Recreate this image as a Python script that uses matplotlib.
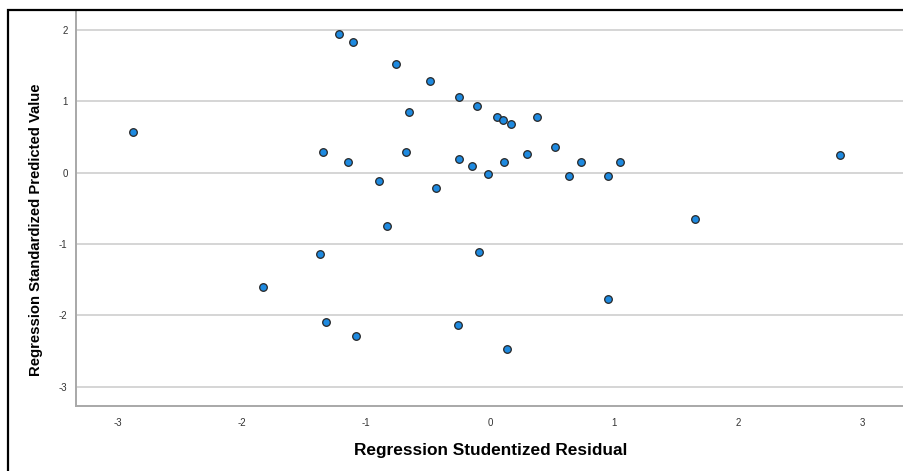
import matplotlib
matplotlib.use("Agg")
import matplotlib.pyplot as plt
from matplotlib.patches import Rectangle

plt.rcParams['font.family'] = ['Liberation Sans', 'DejaVu Sans']
plt.rcParams['axes.unicode_minus'] = False

# studentized residual (x) vs standardized predicted value (y)
resid = [-2.876, -1.216, -1.101, -0.755, -0.487, -0.248, -0.106, -0.656,
         0.058, 0.103, 0.173, 0.377, -1.345, -1.141, -0.680, -0.251,
         -0.143, -0.014, 0.111, 0.302, 0.521, 0.640, 0.734, -0.894,
         -0.436, -0.830, 0.951, 1.044, 1.651, 2.820, -1.828, -1.369,
         -0.090, -1.321, -1.077, -0.259, 0.133, 0.948]
pred = [0.575, 1.941, 1.837, 1.525, 1.282, 1.057, 0.931, 0.847,
        0.781, 0.744, 0.679, 0.781, 0.290, 0.154, 0.286, 0.196,
        0.098, -0.018, 0.154, 0.262, 0.356, -0.046, 0.154, -0.116,
        -0.219, -0.748, -0.051, 0.154, -0.654, 0.252, -1.599, -1.145,
        -1.117, -2.090, -2.290, -2.136, -2.477, -1.767]

xticks = [-3, -2, -1, 0, 1, 2, 3]
yticks = [-3, -2, -1, 0, 1, 2]

W, H = 904, 471
fig = plt.figure(figsize=(W / 100, H / 100), dpi=100)

# outer frame, runs off the right and bottom edge
fig.patches.append(Rectangle((8 / W, -0.1), 1.2, 1 - 10 / H + 0.1,
                             transform=fig.transFigure, fill=False,
                             edgecolor='black', linewidth=1.6))

ax = fig.add_axes([76 / W, 1 - 405.7 / H, (W - 76) / W, 393.7 / H])
ax.set_xlim(-3.335, 3.335)
ax.set_ylim(-3.268, 2.254)

ax.grid(axis='y', color='#d2d2d2', linewidth=1.3)
ax.set_axisbelow(True)
ax.scatter(resid, pred, s=30, color='#1e8ae0', edgecolor='#262626',
           linewidth=0.9, zorder=3)

ax.set_xticks(xticks)
ax.set_yticks(yticks)
ax.tick_params(length=0, labelsize=7, colors='#333333')
ax.tick_params(axis='x', pad=9)
ax.tick_params(axis='y', pad=6)

for s in ['top', 'right']:
    ax.spines[s].set_visible(False)
for s in ['left', 'bottom']:
    ax.spines[s].set_color('#a8a8a8')
    ax.spines[s].set_linewidth(1.4)

fig.text(491 / W, 1 - 451 / H, 'Regression Studentized Residual',
         ha='center', va='center', fontsize=12.4, fontweight='bold')
fig.text(36 / W, 1 - 229.5 / H, 'Regression Standardized Predicted Value',
         ha='center', va='center', rotation=90, fontsize=10.7,
         fontweight='bold')

fig.savefig('out.png', dpi=100)
